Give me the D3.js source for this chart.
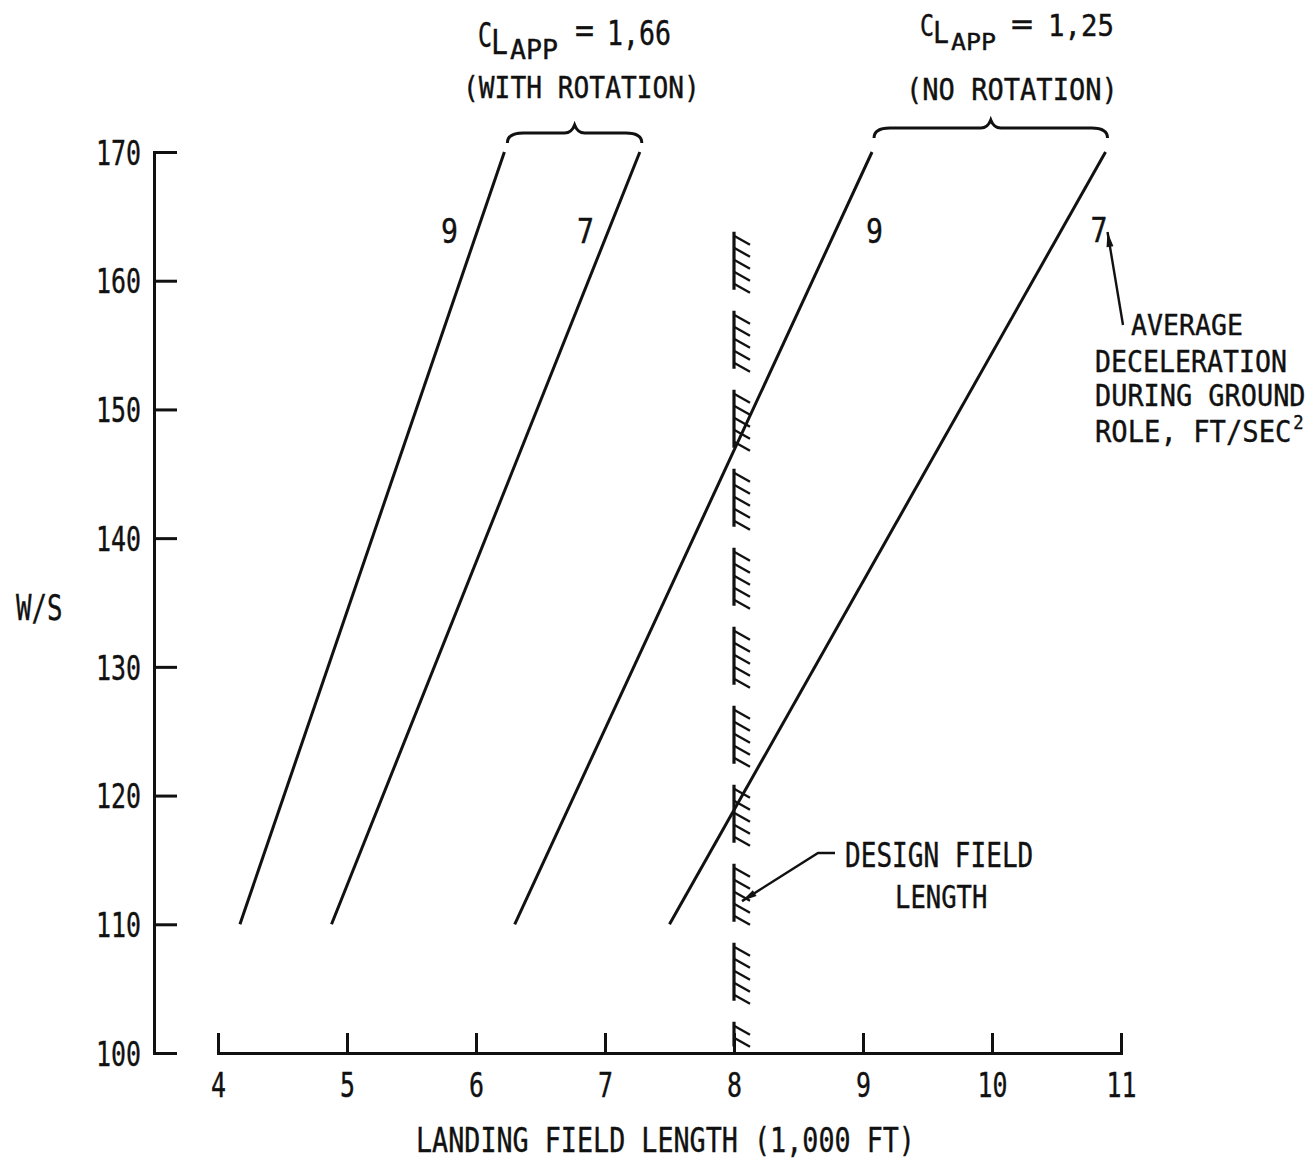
<!DOCTYPE html>
<html><head><meta charset="utf-8">
<script src="https://cdn.jsdelivr.net/npm/d3@7"></script>
<style>
body{margin:0;background:#fff}
svg text{font-family:"DejaVu Sans Mono","Liberation Mono",monospace;fill:#111;stroke:#111;stroke-width:0.4px}
</style></head><body>
<svg id="chart" width="1315" height="1161"></svg>
<script>
// Wing loading vs. landing field length for two approach lift coefficients
const wsTicks = [100, 110, 120, 130, 140, 150, 160, 170];
const lengthTicks = [4, 5, 6, 7, 8, 9, 10, 11];
const wsEnds = [110, 170];                  // W/S at the two ends of every line
const withRotation9 = [4.17, 6.22];         // field length (1,000 ft), decel 9 ft/s^2
const withRotation7 = [4.88, 7.27];         // decel 7 ft/s^2
const noRotation9 = [6.30, 9.07];
const noRotation7 = [7.50, 10.88];
const decelLabels = ["9", "7", "9", "7"];
const designFieldLength = 8;
const designWallSpan = [100.5, 163.8];

const svg = d3.select("#chart");
const x = d3.scaleLinear().domain([4, 11]).range([218, 1121]);
const y = d3.scaleLinear().domain([100, 170]).range([1053, 152]);
const ink = "#111";

// Lettering-guide style: monospaced glyphs squeezed to a fixed character pitch
function squeeze(sel, pitch, total) {
  sel.each(function () {
    const t = d3.select(this);
    const n = this.textContent.length;
    const len = this.getComputedTextLength();
    const target = total || pitch * n;
    const s = len > 0 ? target / len : 1;
    const tx = +t.attr("x") || 0, ty = +t.attr("y") || 0;
    t.attr("x", 0).attr("y", 0).attr("transform", `translate(${tx},${ty}) scale(${s},1)`);
  });
}

function txt(str, px, py, size, pitch, anchor) {
  const t = svg.append("text")
    .attr("x", px).attr("y", py)
    .attr("font-size", size)
    .attr("text-anchor", anchor || "start")
    .text(str);
  squeeze(t, pitch);
  return t;
}

// Y axis (ticks point inward)
const yAxis = svg.append("g").attr("transform", "translate(154,0)")
  .call(d3.axisLeft(y).tickValues(wsTicks).tickSize(-23).tickPadding(13).tickFormat(d3.format("d")));
yAxis.selectAll("path,line").attr("stroke", ink).attr("stroke-width", 3);
yAxis.selectAll("text").attr("font-size", 34).attr("font-family", null).attr("fill", ink)
  .attr("dy", "0.36em").call(squeeze, 15);

// X axis drawn along W/S = 100, ticks pointing up
const xAxis = svg.append("g").attr("transform", `translate(0,${y(100)})`)
  .call(d3.axisBottom(x).tickValues(lengthTicks).tickSize(-20).tickPadding(20).tickFormat(d3.format("d")));
xAxis.selectAll("path,line").attr("stroke", ink).attr("stroke-width", 3);
xAxis.selectAll("text").attr("font-size", 34).attr("font-family", null).attr("fill", ink).call(squeeze, 15);

// Axis titles
txt("W/S", 16, 620, 35, 15.5);
txt("LANDING FIELD LENGTH (1,000 FT)", 416, 1152, 34, 16.1);

// Field-length lines
const series = [withRotation9, withRotation7, noRotation9, noRotation7];
const line = d3.line().x(d => x(d[0])).y(d => y(d[1]));
svg.append("g").selectAll("path").data(series).join("path")
  .attr("d", s => line(s.map((v, i) => [v, wsEnds[i]])))
  .attr("fill", "none").attr("stroke", ink).attr("stroke-width", 3);

// Deceleration labels near the upper ends
const labelAt = [[449.5, 243], [585.5, 243], [874.5, 243], [1099, 242]];
decelLabels.forEach((d, i) => txt(d, labelAt[i][0], labelAt[i][1], 34, 17, "middle"));

// Design field length wall (dashed, hatched on the right)
const wx = x(designFieldLength);
const wTop = y(designWallSpan[1]), wBot = y(designWallSpan[0]);
const dash = 58, gap = 21;
svg.append("line").attr("x1", wx).attr("x2", wx).attr("y1", wTop).attr("y2", wBot)
  .attr("stroke", ink).attr("stroke-width", 3.2).attr("stroke-dasharray", `${dash} ${gap}`);
const hatchY = [];
for (let s = wTop; s < wBot; s += dash + gap) {
  for (let h = s + 4; h < Math.min(s + dash, wBot); h += 12) hatchY.push(h);
}
svg.append("g").selectAll("line").data(hatchY).join("line")
  .attr("x1", wx).attr("y1", d => d).attr("x2", wx + 16).attr("y2", d => d + 9)
  .attr("stroke", ink).attr("stroke-width", 2.4);

// Curly braces above each group
function brace(x0, x1, y0) {
  const xm = (x0 + x1) / 2;
  const p = `M${x0},${y0 + 10} Q${x0},${y0} ${x0 + 16},${y0} L${xm - 10},${y0} Q${xm - 3},${y0} ${xm},${y0 - 8} Q${xm + 3},${y0} ${xm + 10},${y0} L${x1 - 16},${y0} Q${x1},${y0} ${x1},${y0 + 10}`;
  svg.append("path").attr("d", p).attr("fill", "none").attr("stroke", ink).attr("stroke-width", 3);
}
brace(x(withRotation9[1]) + 3, x(withRotation7[1]) + 2, 133);
brace(x(noRotation9[1]) + 2, x(noRotation7[1]) + 2, 128);

// Group headings
txt("C", 478, 47, 33, 14);
txt("L", 491, 54, 33, 17);
txt("APP", 510, 59, 26, 16);
txt("=", 575, 42, 33, 19);
txt("1,66", 607, 45, 33, 16);
txt("(WITH ROTATION)", 463, 98, 30, 15.8);

txt("C", 920, 36, 30, 14);
txt("L", 933, 43, 30, 16);
txt("APP", 951, 50, 23, 15);
txt("=", 1011, 34, 30, 22);
txt("1,25", 1048, 36, 30, 16.5);
txt("(NO ROTATION)", 906, 100, 31, 16.3);

// Arrows
function arrow(pts) {
  svg.append("path").attr("d", d3.line()(pts)).attr("fill", "none").attr("stroke", ink).attr("stroke-width", 2.4);
  const [a, b] = [pts[pts.length - 2], pts[pts.length - 1]];
  const ang = Math.atan2(b[1] - a[1], b[0] - a[0]);
  const L = 15, W = 3.5;
  const bx = b[0] - L * Math.cos(ang), by = b[1] - L * Math.sin(ang);
  const nx = -Math.sin(ang) * W, ny = Math.cos(ang) * W;
  svg.append("path").attr("d", `M${b[0]},${b[1]}L${bx + nx},${by + ny}L${bx - nx},${by - ny}Z`).attr("fill", ink);
}
arrow([[1123, 325], [x(10.88) + 2, 232]]);
arrow([[835, 853], [818, 853], [wx + 8, y(111.8)]]);

// Right-side note
txt("AVERAGE", 1131, 335, 29, 16);
txt("DECELERATION", 1095, 372, 30, 16);
txt("DURING GROUND", 1095, 406, 31, 16.2);
const unit = svg.append("text").attr("x", 1095).attr("y", 442).attr("font-size", 30);
unit.append("tspan").text("ROLE, FT/SEC");
unit.append("tspan").attr("font-size", 19).attr("dx", 2).attr("dy", -13).text("2");
squeeze(unit, 0, 207);

// Design field length note
txt("DESIGN FIELD", 845, 867, 34, 15.7);
txt("LENGTH", 895, 908, 32, 15.4);
</script>
</body></html>
